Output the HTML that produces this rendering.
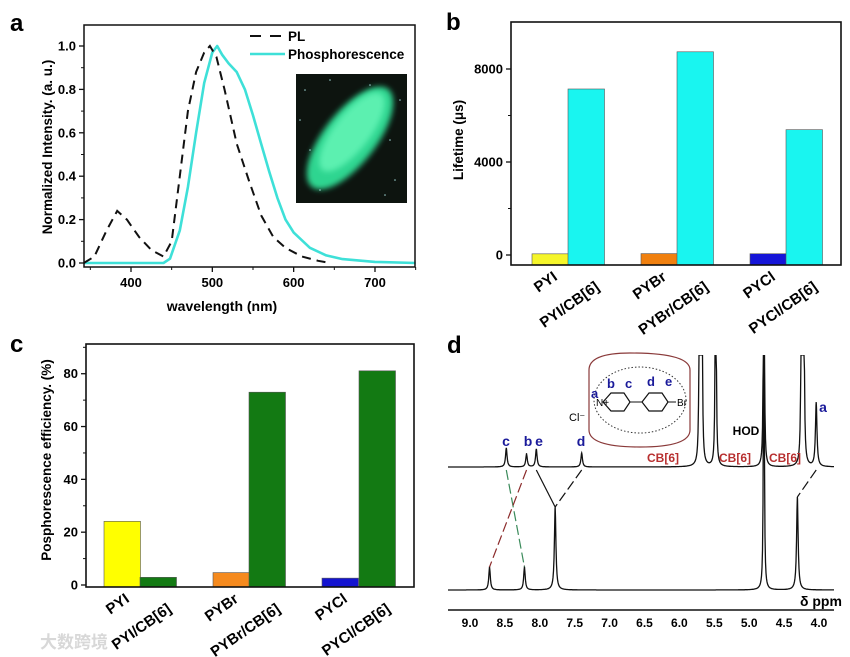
<!DOCTYPE html>
<html><head><meta charset="utf-8"><style>
html,body{margin:0;padding:0;background:#fff;}
svg{display:block;font-family:"Liberation Sans","Noto Sans CJK SC",sans-serif;font-weight:bold;}
</style></head><body>
<svg id="fig" width="850" height="657" viewBox="0 0 850 657" xmlns="http://www.w3.org/2000/svg">
<defs><filter id="blur" x="-20%" y="-20%" width="140%" height="140%"><feGaussianBlur stdDeviation="3"/></filter>
<clipPath id="clipD"><rect x="440" y="355" width="400" height="250"/></clipPath>
<clipPath id="clipInset"><rect x="296" y="74" width="111" height="129"/></clipPath></defs>
<g id="pa"></g>
<g id="pb"></g>
<g id="pc"></g>
<g id="pd"></g>
</svg>
<script>
// ---- Panel a data
const plNm=[342,355,370,383,395,410,425,440,450,460,470,480,490,497,505,515,530,545,560,575,590,610,630,645];
const plVal=[0,0.03,0.15,0.24,0.2,0.12,0.06,0.03,0.1,0.4,0.7,0.88,0.97,1.0,0.95,0.8,0.55,0.38,0.22,0.12,0.07,0.03,0.01,0];
const phNm=[342,440,448,460,470,480,490,500,506,512,520,530,540,550,560,570,580,590,600,620,640,660,700,750];
const phVal=[0,0,0.02,0.15,0.35,0.6,0.83,0.97,1.0,0.96,0.92,0.88,0.8,0.68,0.55,0.42,0.3,0.2,0.14,0.07,0.035,0.018,0.005,0];
const aXTicks=[400,500,600,700];
const aYTicks=[0,0.2,0.4,0.6,0.8,1.0];
// ---- Panel b data
const bCats=["PYI","PYI/CB[6]","PYBr","PYBr/CB[6]","PYCl","PYCl/CB[6]"];
const bVals=[50,7140,60,8740,55,5390];
const bColors=["#f5f52a","#19f5f0","#f0800f","#19f5f0","#1515d8","#19f5f0"];
const bYTicks=[0,4000,8000];
// ---- Panel c data
const cCats=["PYI","PYI/CB[6]","PYBr","PYBr/CB[6]","PYCl","PYCl/CB[6]"];
const cVals=[24.1,2.9,4.7,73,2.6,81.1];
const cColors=["#ffff00","#137a13","#f58a1e","#137a13","#1414d0","#137a13"];
const cYTicks=[0,20,40,60,80];
// ---- Panel d data
const topPpm=[8.48,8.19,8.05,7.40,5.71,5.68,5.48,4.79,4.25,4.22,4.04];
const topH=[19,13,18,14,400,400,400,400,400,400,64];
const botPpm=[8.72,8.22,7.78,4.79,4.31];
const botH=[23,23,83,400,93];
const dTicks=[9.0,8.5,8.0,7.5,7.0,6.5,6.0,5.5,5.0,4.5,4.0];
const linkTop=[8.48,8.19,8.05,7.40,4.04];
const linkBot=[8.22,8.72,7.78,7.78,4.31];
const linkStyle=["green","red","solid","dash","dash"];

const NS="http://www.w3.org/2000/svg";
function mk(parent,tag,attrs,text){const e=document.createElementNS(NS,tag);for(const k in attrs)e.setAttribute(k,attrs[k]);if(text!==undefined)e.textContent=text;parent.appendChild(e);return e;}

// ===== Panel a
const pa=document.getElementById('pa');
const xA=nm=>131+(nm-400)*0.8133, yA=v=>263-v*217;
let t=mk(pa,'text',{x:10,y:31,'font-size':24});t.textContent='a';


const ig=mk(pa,'g',{'clip-path':'url(#clipInset)'});


mk(ig,'rect',{x:296,y:74,width:111,height:129,fill:'#0d140f'});
mk(ig,'ellipse',{cx:350,cy:138,rx:26,ry:62,fill:'#2fd590',transform:'rotate(38 350 138)',filter:'url(#blur)'});
mk(ig,'ellipse',{cx:352,cy:132,rx:18,ry:48,fill:'#5cf0b0',transform:'rotate(38 352 132)',filter:'url(#blur)'});
[[305,90],[320,190],[395,180],[400,100],[310,150],[390,140],[330,80],[385,195],[300,120],[370,85]].forEach(p=>mk(ig,'circle',{cx:p[0],cy:p[1],r:0.8,fill:'#9cc'}));
function linePath(xs,ys,fx,fy){return xs.map((x,i)=>(i?'L':'M')+fx(x).toFixed(1)+','+fy(ys[i]).toFixed(1)).join(' ');}
let e=mk(pa,'path',{d:linePath(phNm,phVal,xA,yA),fill:'none',stroke:'#3ee0d8','stroke-width':2.6,'stroke-linejoin':'round'});


e=mk(pa,'path',{d:linePath(plNm,plVal,xA,yA),fill:'none',stroke:'#111','stroke-width':2,'stroke-dasharray':'9,6'});


e=mk(pa,'rect',{x:84,y:25,width:331,height:242,fill:'none',stroke:'#111','stroke-width':1.5});


aXTicks.forEach(v=>{const x=xA(v);mk(pa,'line',{x1:x,x2:x,y1:267,y2:272,stroke:'#111','stroke-width':1.3});
 const l=mk(pa,'text',{x:x,y:287,'font-size':13,'text-anchor':'middle'},String(v));
 
 });
[350,450,550,650,750].forEach(v=>mk(pa,'line',{x1:xA(v),x2:xA(v),y1:267,y2:270,stroke:'#111','stroke-width':1}));
aYTicks.forEach(v=>{const y=yA(v);mk(pa,'line',{x1:79,x2:84,y1:y,y2:y,stroke:'#111','stroke-width':1.3});
 const l=mk(pa,'text',{x:76,y:y+4.5,'font-size':13,'text-anchor':'end'},v.toFixed(1));
 
 });
[0.1,0.3,0.5,0.7,0.9].forEach(v=>mk(pa,'line',{x1:81,x2:84,y1:yA(v),y2:yA(v),stroke:'#111','stroke-width':1}));
t=mk(pa,'text',{x:222,y:311,'font-size':14,'text-anchor':'middle'},'wavelength (nm)');


t=mk(pa,'text',{x:0,y:0,'font-size':13.5,'text-anchor':'middle',transform:'translate(52,147) rotate(-90)'},'Normalized Intensity. (a. u.)');


let lg=mk(pa,'g',{});


mk(lg,'line',{x1:250,x2:285,y1:36,y2:36,stroke:'#111','stroke-width':2,'stroke-dasharray':'11,9'});
mk(lg,'text',{x:288,y:41,'font-size':13.5},'PL');
lg=mk(pa,'g',{});


mk(lg,'line',{x1:250,x2:285,y1:54,y2:54,stroke:'#3ee0d8','stroke-width':2.6});
mk(lg,'text',{x:288,y:59,'font-size':13.5},'Phosphorescence');

// ===== Bar panel helper
function barPanel(g,cfg){
 const {cats,vals,colors,ticks,minor,fy,base,x0,x1,yTop,yBot,xs,bw,title,titleX,titleY,label,labelX,labelY}=cfg;
 let t=mk(g,'text',{x:labelX,y:labelY,'font-size':24},label);
 
 
 vals.forEach((v,i)=>{const y=fy(v);
  const r=mk(g,'rect',{x:xs[i],y:Math.min(y,base),width:bw,height:Math.abs(base-y),fill:colors[i],stroke:'#555','stroke-width':0.6});
  
  });
 const f=mk(g,'rect',{x:x0,y:yTop,width:x1-x0,height:yBot-yTop,fill:'none',stroke:'#111','stroke-width':1.6});
 
 
 ticks.forEach(v=>{const y=fy(v);mk(g,'line',{x1:x0-5,x2:x0,y1:y,y2:y,stroke:'#111','stroke-width':1.3});
  const l=mk(g,'text',{x:x0-8,y:y+4.5,'font-size':13,'text-anchor':'end'},String(v));
  
  });
 minor.forEach(v=>mk(g,'line',{x1:x0-3,x2:x0,y1:fy(v),y2:fy(v),stroke:'#111','stroke-width':1}));
 cats.forEach((c,i)=>{const cx=xs[i]+bw/2;const ty=yBot+(i%2?20:10);
  const l=mk(g,'text',{x:0,y:0,'font-size':15,'text-anchor':'end',transform:`translate(${cx+(i%2?14:8)},${ty+4}) rotate(-35)`},c);
  
  });
 t=mk(g,'text',{x:0,y:0,'font-size':13.5,'text-anchor':'middle',transform:`translate(${titleX},${titleY}) rotate(-90)`},title);
 
 
}
barPanel(document.getElementById('pb'),{cats:bCats,vals:bVals,colors:bColors,ticks:bYTicks,minor:[2000,6000],
 fy:v=>255-v*0.02325,base:265,x0:511,x1:841,yTop:22,yBot:265,xs:[532,568,641,677,750,786],bw:36.5,
 title:'Lifetime (μs)',titleX:463,titleY:140,label:'b',labelX:446,labelY:30});
barPanel(document.getElementById('pc'),{cats:cCats,vals:cVals,colors:cColors,ticks:cYTicks,minor:[10,30,50,70,90],
 fy:v=>585-v*2.641,base:587,x0:86,x1:414,yTop:344,yBot:587,xs:[104,140,213,249,322,359],bw:36.5,
 title:'Posphorescence efficiency. (%)',titleX:51,titleY:460,label:'c',labelX:10,labelY:352});
const wm=mk(document.getElementById('pc'),'text',{x:40,y:648,'font-size':17,fill:'#d8d8d8'},'大数跨境');



// ===== Panel d
const pd=document.getElementById('pd');
const xD=p=>470+(9-p)*69.8;
t=mk(pd,'text',{x:447,y:353,'font-size':24},'d');


function spectrum(ppm,h,base){
 const xsS=[];for(let x=448;x<=834;x+=0.5)xsS.push(x);
 ppm.forEach(p=>xsS.push(xD(p)));xsS.sort((a,b)=>a-b);
 return xsS.map((x,i)=>{let s=0;ppm.forEach((p,k)=>{const d=x-xD(p);const g=h[k]>150?0.45:0.9;s+=h[k]*g*g/(d*d+g*g);});
  return (i?'L':'M')+x.toFixed(2)+','+Math.max(base-s,355).toFixed(1);}).join(' ');
}
const dg=mk(pd,'g',{'clip-path':'url(#clipD)'});
e=mk(dg,'path',{d:spectrum(botPpm,botH,590),fill:'none',stroke:'#111','stroke-width':1.3});


e=mk(dg,'path',{d:spectrum(topPpm,topH,467),fill:'none',stroke:'#111','stroke-width':1.3});


const linkColor={green:'#3a8a5a',red:'#8b2a2a',solid:'#111',dash:'#111'};
linkTop.forEach((p,i)=>{const bi=botPpm.indexOf(linkBot[i]);const yb=590-botH[bi];
 const l=mk(pd,'line',{x1:xD(p),y1:470,x2:xD(linkBot[i]),y2:yb,stroke:linkColor[linkStyle[i]],'stroke-width':1.2,'stroke-dasharray':linkStyle[i]==='solid'?'none':'10,4'});
 
 });
mk(pd,'line',{x1:448,x2:834,y1:610,y2:610,stroke:'#111','stroke-width':1.5});
dTicks.forEach(v=>{const l=mk(pd,'text',{x:xD(v),y:627,'font-size':12,'text-anchor':'middle'},v.toFixed(1));
 
 });
t=mk(pd,'text',{x:800,y:606,'font-size':14},'δ ppm');


[['c',506],['b',528],['e',539],['d',581]].forEach(a=>{const l=mk(pd,'text',{x:a[1],y:446,'font-size':14,'text-anchor':'middle',fill:'#1a1a9a'},a[0]);
 
 });
t=mk(pd,'text',{x:823,y:412,'font-size':14,'text-anchor':'middle',fill:'#1a1a9a'},'a');


[['CB[6]',663],['CB[6]',735],['CB[6]',785]].forEach(a=>{const l=mk(pd,'text',{x:a[1],y:462,'font-size':12,'text-anchor':'middle',fill:'#b83030'},a[0]);
 
 });
t=mk(pd,'text',{x:746,y:435,'font-size':12,'text-anchor':'middle'},'HOD');


const mg=mk(pd,'g',{});


mk(mg,'path',{d:'M589,370 Q589,353 630,353 Q690,353 690,370 L690,430 Q690,447 640,447 Q589,447 589,430 Z',fill:'none',stroke:'#8a3a3a','stroke-width':1.2});
mk(mg,'ellipse',{cx:640,cy:400,rx:46,ry:33,fill:'none',stroke:'#333','stroke-width':1,'stroke-dasharray':'1.5,2'});
mk(mg,'polygon',{points:'603,402 611,393 624,393 630,402 624,411 611,411',fill:'none',stroke:'#111','stroke-width':1.2});
mk(mg,'polygon',{points:'642,402 649,393 662,393 668,402 662,411 649,411',fill:'none',stroke:'#111','stroke-width':1.2});
mk(mg,'line',{x1:630,y1:402,x2:642,y2:402,stroke:'#111'});
mk(mg,'line',{x1:668,y1:402,x2:676,y2:402,stroke:'#111'});
mk(mg,'text',{x:677,y:406,'font-size':10,'font-weight':'normal'},'Br');
mk(mg,'text',{x:596,y:406,'font-size':10,'font-weight':'normal'},'N+');
mk(mg,'text',{x:569,y:421,'font-size':11,'font-weight':'normal'},'Cl⁻');
[['a',591,398],['b',607,388],['c',625,388],['d',647,386],['e',665,386]].forEach(a=>mk(mg,'text',{x:a[1],y:a[2],'font-size':13,fill:'#1a1a9a'},a[0]));
</script>
</body></html>
